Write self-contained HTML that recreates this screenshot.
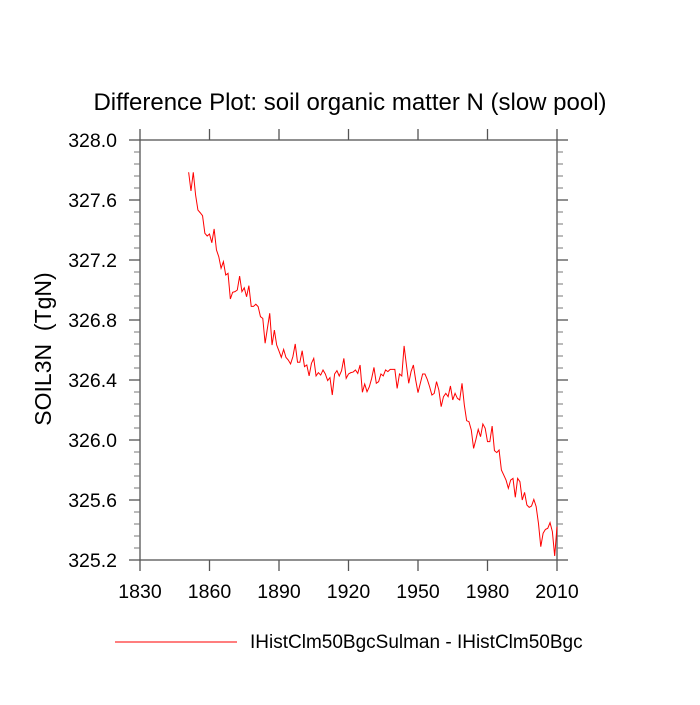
<!DOCTYPE html>
<html><head><meta charset="utf-8"><style>
body{margin:0;background:#fff}
svg text{font-family:"Liberation Sans",Arial,sans-serif;fill:#000}
</style></head><body>
<svg id="chart" width="700" height="700" viewBox="0 0 700 700" xmlns="http://www.w3.org/2000/svg">
<rect width="700" height="700" fill="#fff"/>
<text x="350" y="110" font-size="24" text-anchor="middle">Difference Plot: soil organic matter N (slow pool)</text>
<text transform="translate(51,349) rotate(-90)" font-size="23" text-anchor="middle" style="white-space:pre">SOIL3N  (TgN)</text>
<g id="axes"></g>
<g id="series"></g>
<line x1="115" y1="642" x2="237" y2="642" stroke="#ff3030" stroke-width="1.2"/>
<text x="250" y="648" font-size="19">IHistClm50BgcSulman - IHistClm50Bgc</text>
</svg>
<script>
const years = [];
for (let y = 1851; y <= 2010; y++) years.push(y);
const values = [
327.785,327.66,327.785,327.633,327.533,327.515,327.495,327.378,327.36,327.373,
327.315,327.407,327.267,327.222,327.145,327.189,327.1,327.111,326.94,326.985,
326.989,327.0,327.093,326.989,327.015,326.955,327.029,326.891,326.891,326.905,
326.889,326.822,326.811,326.645,326.745,326.845,326.633,326.733,326.633,326.593,
326.551,326.604,326.551,326.533,326.507,326.556,326.64,326.518,326.518,326.595,
326.489,326.5,326.427,326.511,326.544,326.427,326.449,326.433,326.467,326.44,
326.396,326.416,326.3,326.44,326.462,326.427,326.462,326.544,326.411,326.44,
326.449,326.453,326.467,326.444,326.5,326.318,326.373,326.322,326.355,326.411,
326.484,326.378,326.389,326.44,326.427,326.467,326.456,326.471,326.471,326.471,
326.344,326.44,326.427,326.627,326.5,326.378,326.456,326.5,326.4,326.316,
326.378,326.44,326.44,326.404,326.356,326.3,326.311,326.389,326.333,326.222,
326.289,326.311,326.289,326.36,326.267,326.311,326.278,326.267,326.378,326.233,
326.129,326.122,326.067,325.944,326.004,326.071,326.022,326.107,326.078,325.989,
325.989,326.093,325.929,325.916,325.933,325.8,325.767,325.733,325.678,325.733,
325.744,325.618,325.744,325.722,325.6,325.651,325.567,325.551,325.56,325.604,
325.556,325.444,325.289,325.378,325.404,325.411,325.449,325.389,325.227,325.422
];
const xTicks = [1830,1860,1890,1920,1950,1980,2010];
const yTicks = [328.0,327.6,327.2,326.8,326.4,326.0,325.6,325.2];

const L=140,R=557,T=140,B=560;
const xMin=1830,xMax=2010,yMin=325.2,yMax=328.0;
const xs=v=>L+(v-xMin)/(xMax-xMin)*(R-L);
const ys=v=>B-(v-yMin)/(yMax-yMin)*(B-T);
const NS="http://www.w3.org/2000/svg";
const axes=document.getElementById('axes');
function mk(tag,attrs,parent){const e=document.createElementNS(NS,tag);for(const k in attrs)e.setAttribute(k,attrs[k]);parent.appendChild(e);return e;}
const frame=mk('rect',{x:L,y:T,width:R-L,height:B-T,fill:'none',stroke:'#555','stroke-width':1.3},axes);


xTicks.forEach(t=>{
  const x=xs(t);
  const a=mk('line',{x1:x,y1:B,x2:x,y2:B+11,stroke:'#555','stroke-width':1.3},axes);
  
  
  const b=mk('line',{x1:x,y1:T,x2:x,y2:T-11,stroke:'#555','stroke-width':1.3},axes);
  
  
  const tx=mk('text',{x:x,y:598,'font-size':19.5,'text-anchor':'middle'},axes);
  tx.textContent=t;
  
  
});
for(let i=0;i<yTicks.length;i++){
  const v=yTicks[i];const y=ys(v);
  [[L,L-11],[R,R+11]].forEach(p=>{
    const l=mk('line',{x1:p[0],y1:y,x2:p[1],y2:y,stroke:'#555','stroke-width':1.3},axes);
    
    
  });
  const tx=mk('text',{x:117,y:y+7,'font-size':19.5,'text-anchor':'end'},axes);
  tx.textContent=v.toFixed(1);
  
  
  if(i<yTicks.length-1){
    for(let k=1;k<5;k++){
      const ym=ys(v-0.08*k);
      [[L,L-6],[R,R+6]].forEach(p=>{
        const m=mk('line',{x1:p[0],y1:ym,x2:p[1],y2:ym,stroke:'#777','stroke-width':1},axes);
        
        
      });
    }
  }
}
const pts=years.map((yr,i)=>xs(yr).toFixed(2)+','+ys(values[i]).toFixed(2)).join(' ');
const line=mk('polyline',{points:pts,fill:'none',stroke:'#ff0000','stroke-width':1},document.getElementById('series'));


</script>
</body></html>
